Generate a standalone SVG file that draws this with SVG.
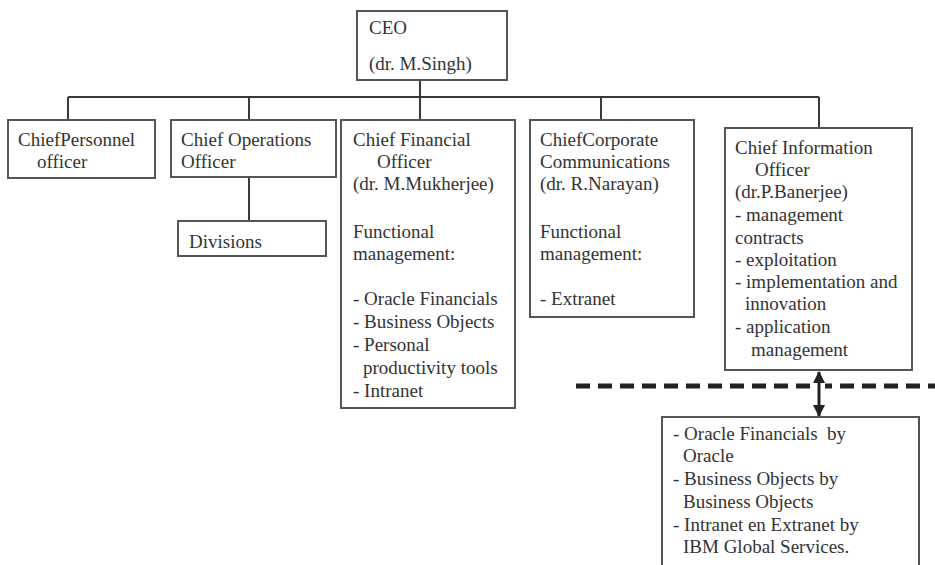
<svg xmlns="http://www.w3.org/2000/svg" width="935" height="565" viewBox="0 0 935 565">
  <style>
    .box { fill: #fff; stroke: #555; stroke-width: 2; }
    .wire { fill: none; stroke: #3a3a3a; stroke-width: 2; }
    text { font-family: "Liberation Serif", "Times New Roman", serif; font-size: 19px; fill: #333; }
  </style>
  <defs>
    <marker id="head" viewBox="0 0 12 12" refX="11" refY="6" markerWidth="12" markerHeight="12" markerUnits="userSpaceOnUse" orient="auto-start-reverse">
      <path d="M0,0 L12,6 L0,12 z" fill="#222"/>
    </marker>
  </defs>
  <rect width="935" height="565" fill="#fff"/>

  <!-- tree wiring -->
  <g id="connectors">
    <path class="wire" d="M420,80 V97 M68,97 H819 M68,97 V120 M249,97 V120 M420,97 V120 M601,97 V120 M819,97 V128"/>
    <path class="wire" d="M249,177 V221"/>
    <!-- outsourcing boundary -->
    <line x1="576" y1="386" x2="935" y2="386" stroke="#222" stroke-width="5" stroke-dasharray="14 8"/>
    <rect x="812" y="380" width="13" height="12" fill="#fff"/>
    <line x1="819" y1="372" x2="819" y2="416" stroke="#222" stroke-width="3" marker-start="url(#head)" marker-end="url(#head)"/>
  </g>

  <g id="ceo">
    <rect class="box" x="357" y="11" width="150" height="69"/>
    <text x="369" y="34">CEO</text>
    <text x="369" y="70">(dr. M.Singh)</text>
  </g>

  <g id="personnel">
    <rect class="box" x="8" y="120" width="147" height="58"/>
    <text x="18" y="146">ChiefPersonnel</text>
    <text x="37" y="168">officer</text>
  </g>

  <g id="operations">
    <rect class="box" x="171" y="120" width="165" height="57"/>
    <text x="181" y="146">Chief Operations</text>
    <text x="181" y="168">Officer</text>
  </g>

  <g id="divisions">
    <rect class="box" x="178" y="221" width="148" height="35"/>
    <text x="189" y="248">Divisions</text>
  </g>

  <g id="financial">
    <rect class="box" x="341" y="120" width="174" height="288"/>
    <text x="353" y="146">Chief Financial</text>
    <text x="377" y="168">Officer</text>
    <text x="353" y="190">(dr. M.Mukherjee)</text>
    <text x="353" y="238">Functional</text>
    <text x="353" y="260">management:</text>
    <text x="353" y="305">- Oracle Financials</text>
    <text x="353" y="328">- Business Objects</text>
    <text x="353" y="351">- Personal</text>
    <text x="363" y="374">productivity tools</text>
    <text x="353" y="397">- Intranet</text>
  </g>

  <g id="communications">
    <rect class="box" x="530" y="120" width="164" height="197"/>
    <text x="540" y="146">ChiefCorporate</text>
    <text x="540" y="168">Communications</text>
    <text x="540" y="190">(dr. R.Narayan)</text>
    <text x="540" y="238">Functional</text>
    <text x="540" y="260">management:</text>
    <text x="540" y="305">- Extranet</text>
  </g>

  <g id="information">
    <rect class="box" x="725" y="128" width="187" height="242"/>
    <text x="735" y="154">Chief Information</text>
    <text x="755" y="176">Officer</text>
    <text x="735" y="198">(dr.P.Banerjee)</text>
    <text x="735" y="221">- management</text>
    <text x="735" y="244">contracts</text>
    <text x="735" y="266">- exploitation</text>
    <text x="735" y="288">- implementation and</text>
    <text x="745" y="310">innovation</text>
    <text x="735" y="333">- application</text>
    <text x="751" y="356">management</text>
  </g>

  <g id="suppliers">
    <rect class="box" x="662" y="417" width="257" height="160"/>
    <text x="673" y="440" xml:space="preserve">- Oracle Financials  by</text>
    <text x="683" y="462">Oracle</text>
    <text x="673" y="485">- Business Objects by</text>
    <text x="683" y="508">Business Objects</text>
    <text x="673" y="531">- Intranet en Extranet by</text>
    <text x="683" y="553">IBM Global Services.</text>
  </g>
</svg>
